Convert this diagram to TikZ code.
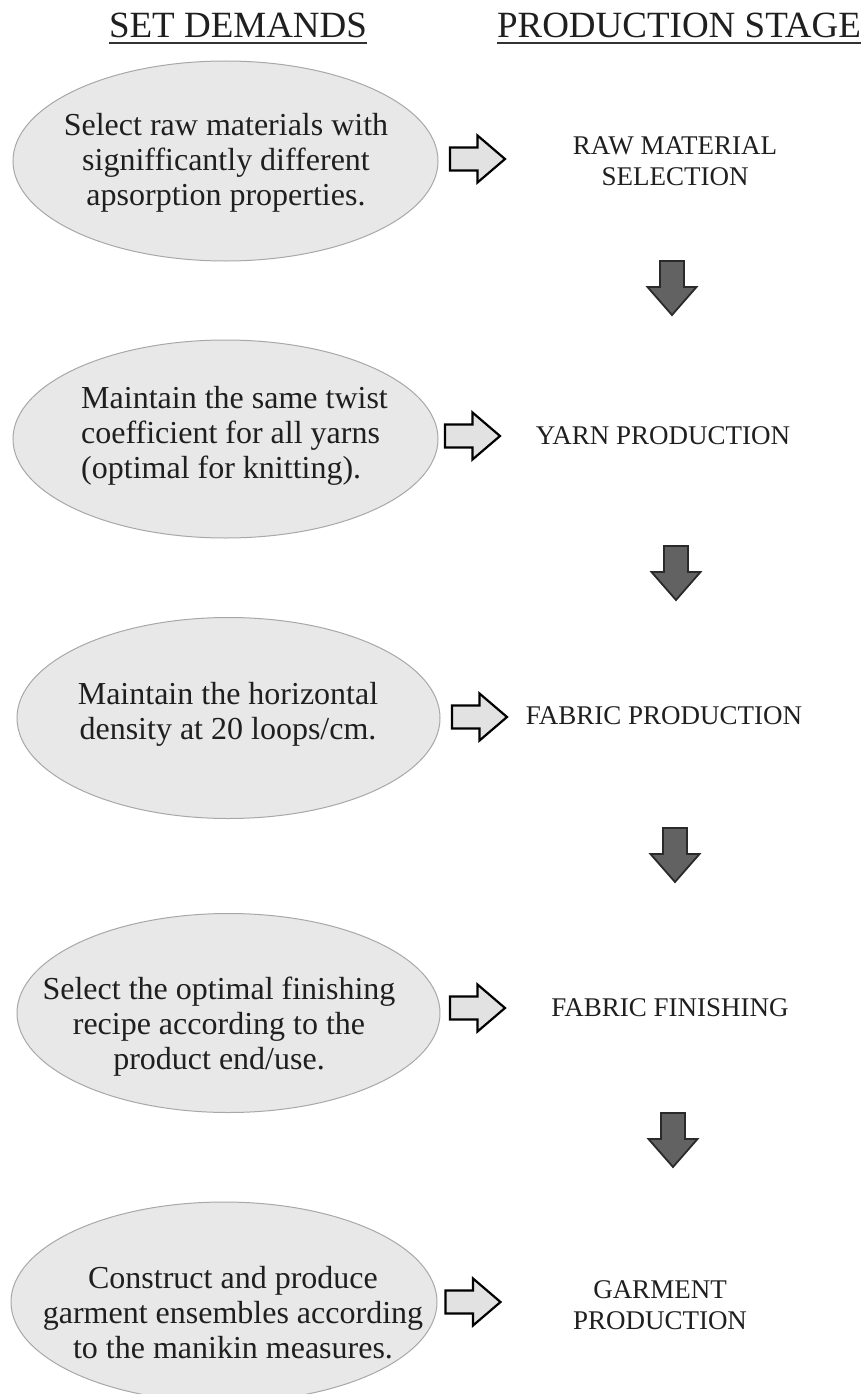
\documentclass[tikz,border=0pt]{standalone}
\usepackage{fontspec}
\setmainfont{Liberation Serif}
\usetikzlibrary{shapes.geometric}
\definecolor{efill}{HTML}{E8E8E8}
\definecolor{edraw}{HTML}{A8A8A8}
\definecolor{rfill}{HTML}{E2E2E2}
\definecolor{dfill}{HTML}{626262}
\definecolor{ddraw}{HTML}{2A2A2A}
\definecolor{ulc}{HTML}{333333}
\begin{document}
\begin{tikzpicture}[x=1pt,y=-1pt,
  demand/.style={ellipse, draw=edraw, fill=efill, line width=1pt, inner sep=0pt},
  dtext/.style={font=\fontsize{32}{35}\selectfont, align=center, inner sep=0pt, text=black!88},
  stage/.style={font=\fontsize{27}{31}\selectfont, align=center, inner sep=0pt, text=black!88},
  heading/.style={font=\fontsize{37}{40}\selectfont, inner sep=0pt, anchor=base, text=black!88},
  uline/.style={line width=1.8pt, draw=ulc},
  rarrow/.pic={\draw[line width=2.2pt, fill=rfill, line join=miter]
     (-27.5,-11.5) -- (0,-11.5) -- (0,-23.5) -- (27.5,0) -- (0,23.5) -- (0,11.5) -- (-27.5,11.5) -- cycle;},
  darrow/.pic={\draw[line width=1.8pt, draw=ddraw, fill=dfill, line join=miter]
     (-12,0) -- (12,0) -- (12,26) -- (24.5,26) -- (0,54) -- (-24.5,26) -- (-12,26) -- cycle;}
]
\useasboundingbox (0,0) rectangle (866,1394);
\fill[white] (0,0) rectangle (866,1394);

% headings
\node[heading] (h1) at (238,38) {SET DEMANDS};
\node[heading] (h2) at (679,38) {PRODUCTION STAGE};
\draw[uline] ([yshift=-5pt]h1.base west) -- ([yshift=-5pt]h1.base east);
\draw[uline] ([yshift=-5pt]h2.base west) -- ([yshift=-5pt]h2.base east);

% demand ellipses
\node[demand, minimum width=425pt, minimum height=200pt] (e1) at (225.5,161) {};
\node[demand, minimum width=425pt, minimum height=198pt] (e2) at (225.5,439) {};
\node[demand, minimum width=423pt, minimum height=201pt] (e3) at (228.5,718) {};
\node[demand, minimum width=423pt, minimum height=199pt] (e4) at (228.5,1013) {};
\node[demand, minimum width=426pt, minimum height=200pt] (e5) at (224,1302) {};

\node[dtext] (t1) at (226,163) {Select raw materials with\\signifficantly different\\apsorption properties.};
\node[dtext, align=left, anchor=west] (t2) at (81,436) {Maintain the same twist\\coefficient for all yarns\\(optimal for knitting).};
\node[dtext] (t3) at (228,714) {Maintain the horizontal\\density at 20 loops/cm.};
\node[dtext] (t4) at (219,1027) {Select the optimal finishing\\recipe according to the\\product end/use.};
\node[dtext] (t5) at (233,1313) {Construct and produce\\garment ensembles according\\to the manikin measures.};

% production stages
\node[stage] (s1) at (675,161.5) {RAW MATERIAL\\SELECTION};
\node[stage] (s2) at (663,436) {YARN PRODUCTION};
\node[stage] (s3) at (664,716) {FABRIC PRODUCTION};
\node[stage] (s4) at (670,1008) {FABRIC FINISHING};
\node[stage] (s5) at (660,1305) {GARMENT\\PRODUCTION};

% block arrows
\coordinate (ra1) at (477.5,159);
\coordinate (ra2) at (472.5,436);
\coordinate (ra3) at (479.5,717);
\coordinate (ra4) at (477.5,1008);
\coordinate (ra5) at (473,1302);
\foreach \c in {ra1,ra2,ra3,ra4,ra5} \pic at (\c) {rarrow};

\coordinate (da1) at (672,261);
\coordinate (da2) at (676,546);
\coordinate (da3) at (675,828);
\coordinate (da4) at (673,1113);
\foreach \c in {da1,da2,da3,da4} \pic at (\c) {darrow};
\end{tikzpicture}
\end{document}
